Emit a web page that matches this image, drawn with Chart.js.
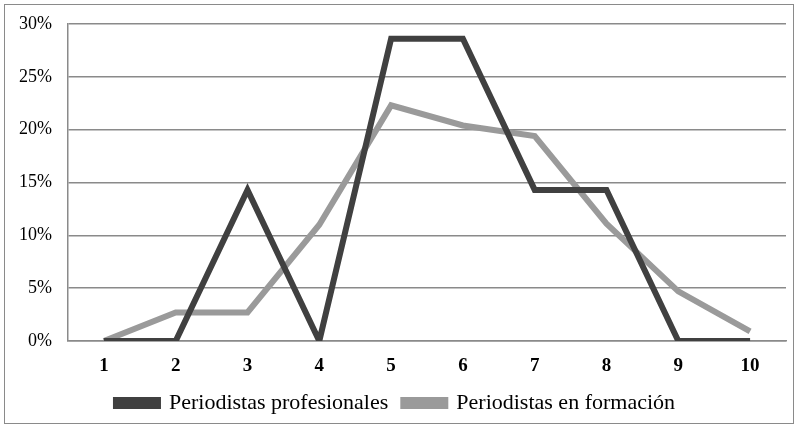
<!DOCTYPE html>
<html>
<head>
<meta charset="utf-8">
<script src="https://cdn.jsdelivr.net/npm/chart.js@4.4.0/dist/chart.umd.min.js"></script>
<style>
  html, body { margin: 0; padding: 0; background: #fff; }
  #box { position: absolute; left: 4px; top: 4px; width: 790px; height: 420px; border: 1.5px solid #8a8a8a; box-sizing: border-box; }
  canvas { display: block; }
</style>
</head>
<body>
<div id="box"><canvas id="myChart" width="787" height="417"></canvas></div>
<script>
// categories along the x axis
let categories = ["1", "2", "3", "4", "5", "6", "7", "8", "9", "10"];
// percentages
let profesionales = [0, 0, 14.3, 0, 28.6, 28.6, 14.3, 14.3, 0, 0];
let enFormacion = [0, 2.7, 2.7, 11.0, 22.3, 20.4, 19.4, 11.1, 4.7, 0.9];
let yTicks = [0, 5, 10, 15, 20, 25, 30];

let chart = document.getElementById("myChart");
new Chart(chart, {
  type: "line",
  data: {
    labels: categories,
    datasets: [{
      label: "Periodistas profesionales",
      data: profesionales,
      borderColor: "#404040",
      backgroundColor: "#404040",
      borderWidth: 6,
      pointRadius: 0,
      tension: 0
    }, {
      label: "Periodistas en formación",
      data: enFormacion,
      borderColor: "#9a9a9a",
      backgroundColor: "#9a9a9a",
      borderWidth: 6,
      pointRadius: 0,
      tension: 0
    }]
  },
  options: {
    responsive: false,
    animation: false,
    layout: { padding: { top: 19, right: 6, left: 0, bottom: -2 } },
    plugins: {
      tooltip: { enabled: false },
      legend: {
        position: "bottom",
        labels: {
          color: "#000",
          font: { family: "Liberation Serif", size: 22 },
          boxWidth: 42,
          boxHeight: 6,
          padding: 15
        }
      }
    },
    scales: {
      x: {
        offset: true,
        afterFit: function (axis) { axis.height = 36; },
        grid: { display: false },
        border: { display: true, color: "#8a8a8a", width: 1.5 },
        ticks: {
          color: "#000",
          padding: 6,
          font: { family: "Liberation Serif", size: 19, weight: "bold" }
        }
      },
      y: {
        min: 0,
        max: 30,
        afterFit: function (axis) { axis.width = 63; axis.paddingTop = 0; axis.paddingBottom = 0; },
        afterBuildTicks: function (axis) { axis.ticks = yTicks.map(v => ({ value: v })); },
        grid: { color: "#8a8a8a", lineWidth: 1.5, drawTicks: false },
        border: { display: true, color: "#8a8a8a", width: 1.5 },
        ticks: {
          color: "#000",
          padding: 16,
          font: { family: "Liberation Serif", size: 18 },
          callback: v => v + "%"
        }
      }
    }
  }
});
</script>
</body>
</html>
